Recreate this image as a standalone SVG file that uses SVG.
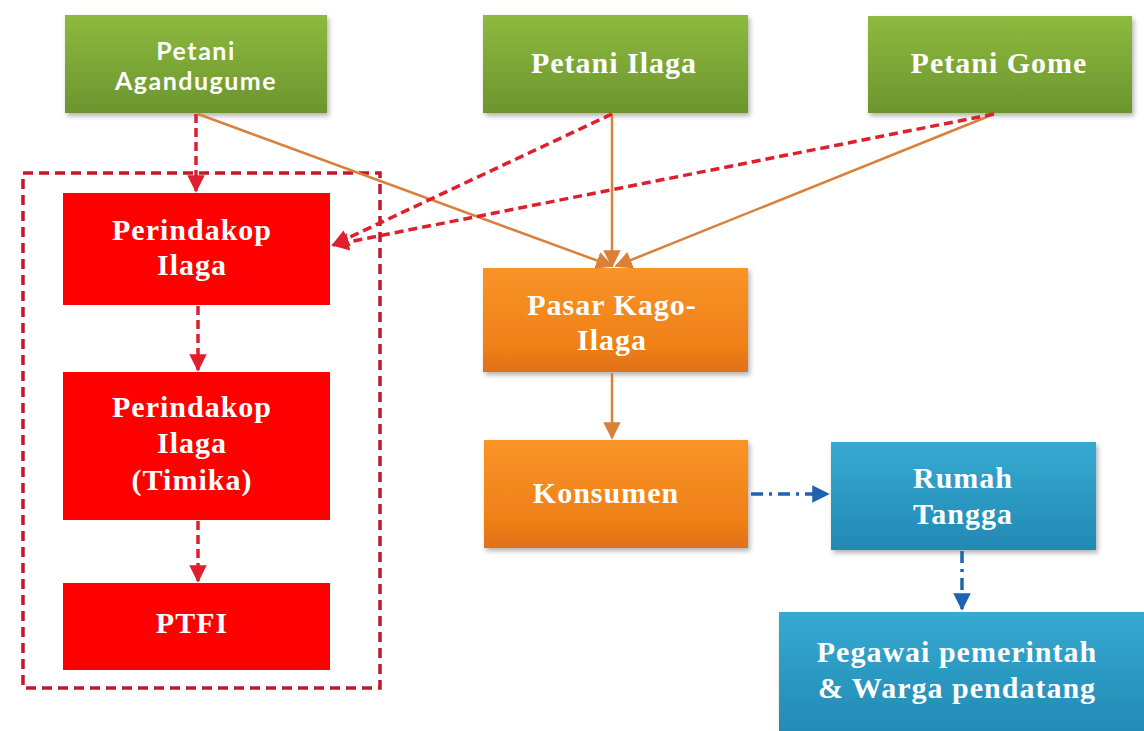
<svg xmlns="http://www.w3.org/2000/svg" width="1144" height="731" viewBox="0 0 1144 731">
<defs>
<linearGradient id="gGreen" x1="0" y1="0" x2="0" y2="1"><stop offset="0" stop-color="#8dba3f"/><stop offset="1" stop-color="#6c952e"/></linearGradient>
<linearGradient id="gOrange" x1="0" y1="0" x2="0" y2="1"><stop offset="0" stop-color="#f99428"/><stop offset="0.75" stop-color="#ef8018"/><stop offset="1" stop-color="#e0701a"/></linearGradient>
<linearGradient id="gBlue" x1="0" y1="0" x2="0" y2="1"><stop offset="0" stop-color="#35aad2"/><stop offset="1" stop-color="#2389b4"/></linearGradient>
<filter id="sh" x="-10%" y="-10%" width="125%" height="130%"><feDropShadow dx="2" dy="3" stdDeviation="2.5" flood-color="#000" flood-opacity="0.3"/></filter>
<marker id="aRed" viewBox="0 0 10 10" refX="9" refY="5" markerWidth="5" markerHeight="5" orient="auto" markerUnits="strokeWidth"><path d="M0,0 L10,5 L0,10 z" fill="#dd1f2e"/></marker>
<marker id="aOr" viewBox="0 0 10 10" refX="9" refY="5" markerWidth="7" markerHeight="7" orient="auto" markerUnits="strokeWidth"><path d="M0,0 L10,5 L0,10 z" fill="#d9803a"/></marker>
<marker id="aBlue" viewBox="0 0 10 10" refX="9" refY="5" markerWidth="5" markerHeight="5" orient="auto" markerUnits="strokeWidth"><path d="M0,0 L10,5 L0,10 z" fill="#1f63b0"/></marker>
</defs>
<style>
.t{fill:#fff;font-family:"Liberation Serif",serif;font-weight:bold;font-size:30px;letter-spacing:1px;text-anchor:middle}
.ts{fill:#fff;font-family:Lato,"Liberation Sans",sans-serif;font-weight:bold;font-size:25px;letter-spacing:1.5px;text-anchor:middle}
.red{stroke:#dd1f2e;stroke-width:3.5;stroke-dasharray:9,5;fill:none}
.or{stroke:#d9803a;stroke-width:2.5;fill:none}
.bl{stroke:#1f63b0;stroke-width:3.5;stroke-dasharray:12,6,3,6;fill:none}
</style>
<rect width="1144" height="731" fill="#fff"/>
<g id="container"><rect x="23" y="173" width="357" height="515" fill="none" stroke="#c4182a" stroke-width="3.5" stroke-dasharray="10,6"/></g>
<g id="n-agandugume"><rect x="65" y="15" width="262" height="98" fill="url(#gGreen)" filter="url(#sh)"/><text class="ts" x="196" y="60">Petani</text><text class="ts" x="196" y="90">Agandugume</text></g>
<g id="n-ilaga"><rect x="483" y="15" width="265" height="98" fill="url(#gGreen)" filter="url(#sh)"/><text class="t" x="614" y="73">Petani Ilaga</text></g>
<g id="n-gome"><rect x="868" y="16" width="264" height="97" fill="url(#gGreen)" filter="url(#sh)"/><text class="t" x="999" y="73">Petani Gome</text></g>
<g id="n-perindakop"><rect x="63" y="193" width="267" height="112" fill="#f00"/><text class="t" x="192" y="240">Perindakop</text><text class="t" x="192" y="275">Ilaga</text></g>
<g id="n-timika"><rect x="63" y="372" width="267" height="148" fill="#f00"/><text class="t" x="192" y="417">Perindakop</text><text class="t" x="192" y="453">Ilaga</text><text class="t" x="192" y="490">(Timika)</text></g>
<g id="n-ptfi"><rect x="63" y="583" width="267" height="87" fill="#f00"/><text class="t" x="192" y="633">PTFI</text></g>
<g id="n-pasar"><rect x="483" y="268" width="265" height="104" fill="url(#gOrange)" filter="url(#sh)"/><text class="t" x="612" y="315">Pasar Kago-</text><text class="t" x="612" y="350">Ilaga</text></g>
<g id="n-konsumen"><rect x="484" y="440" width="264" height="108" fill="url(#gOrange)" filter="url(#sh)"/><text class="t" x="606" y="503">Konsumen</text></g>
<g id="n-rumah"><rect x="831" y="442" width="265" height="108" fill="url(#gBlue)" filter="url(#sh)"/><text class="t" x="963" y="488">Rumah</text><text class="t" x="963" y="524">Tangga</text></g>
<g id="n-pegawai"><rect x="779" y="612" width="370" height="125" fill="url(#gBlue)" filter="url(#sh)"/><text class="t" x="957" y="662">Pegawai pemerintah</text><text class="t" x="957" y="698">&amp; Warga pendatang</text></g>
<g id="connectors">
<line class="or" x1="198" y1="114" x2="612" y2="266" marker-end="url(#aOr)"/>
<line class="or" x1="612" y1="114" x2="612" y2="266" marker-end="url(#aOr)"/>
<line class="or" x1="994" y1="114" x2="616" y2="266" marker-end="url(#aOr)"/>
<line class="red" x1="196" y1="114" x2="196" y2="191" marker-end="url(#aRed)"/>
<line class="red" x1="612" y1="114" x2="333" y2="245" marker-end="url(#aRed)"/>
<line class="red" x1="994" y1="114" x2="333" y2="245" marker-end="url(#aRed)"/>
<line class="red" x1="198" y1="306" x2="198" y2="370" marker-end="url(#aRed)"/>
<line class="red" x1="198" y1="521" x2="198" y2="581" marker-end="url(#aRed)"/>
<line class="or" x1="612" y1="373" x2="612" y2="438" marker-end="url(#aOr)"/>
<line class="bl" x1="751" y1="494" x2="828" y2="494" marker-end="url(#aBlue)"/>
<line class="bl" x1="962" y1="551" x2="962" y2="609" marker-end="url(#aBlue)"/>
</g>
</svg>
